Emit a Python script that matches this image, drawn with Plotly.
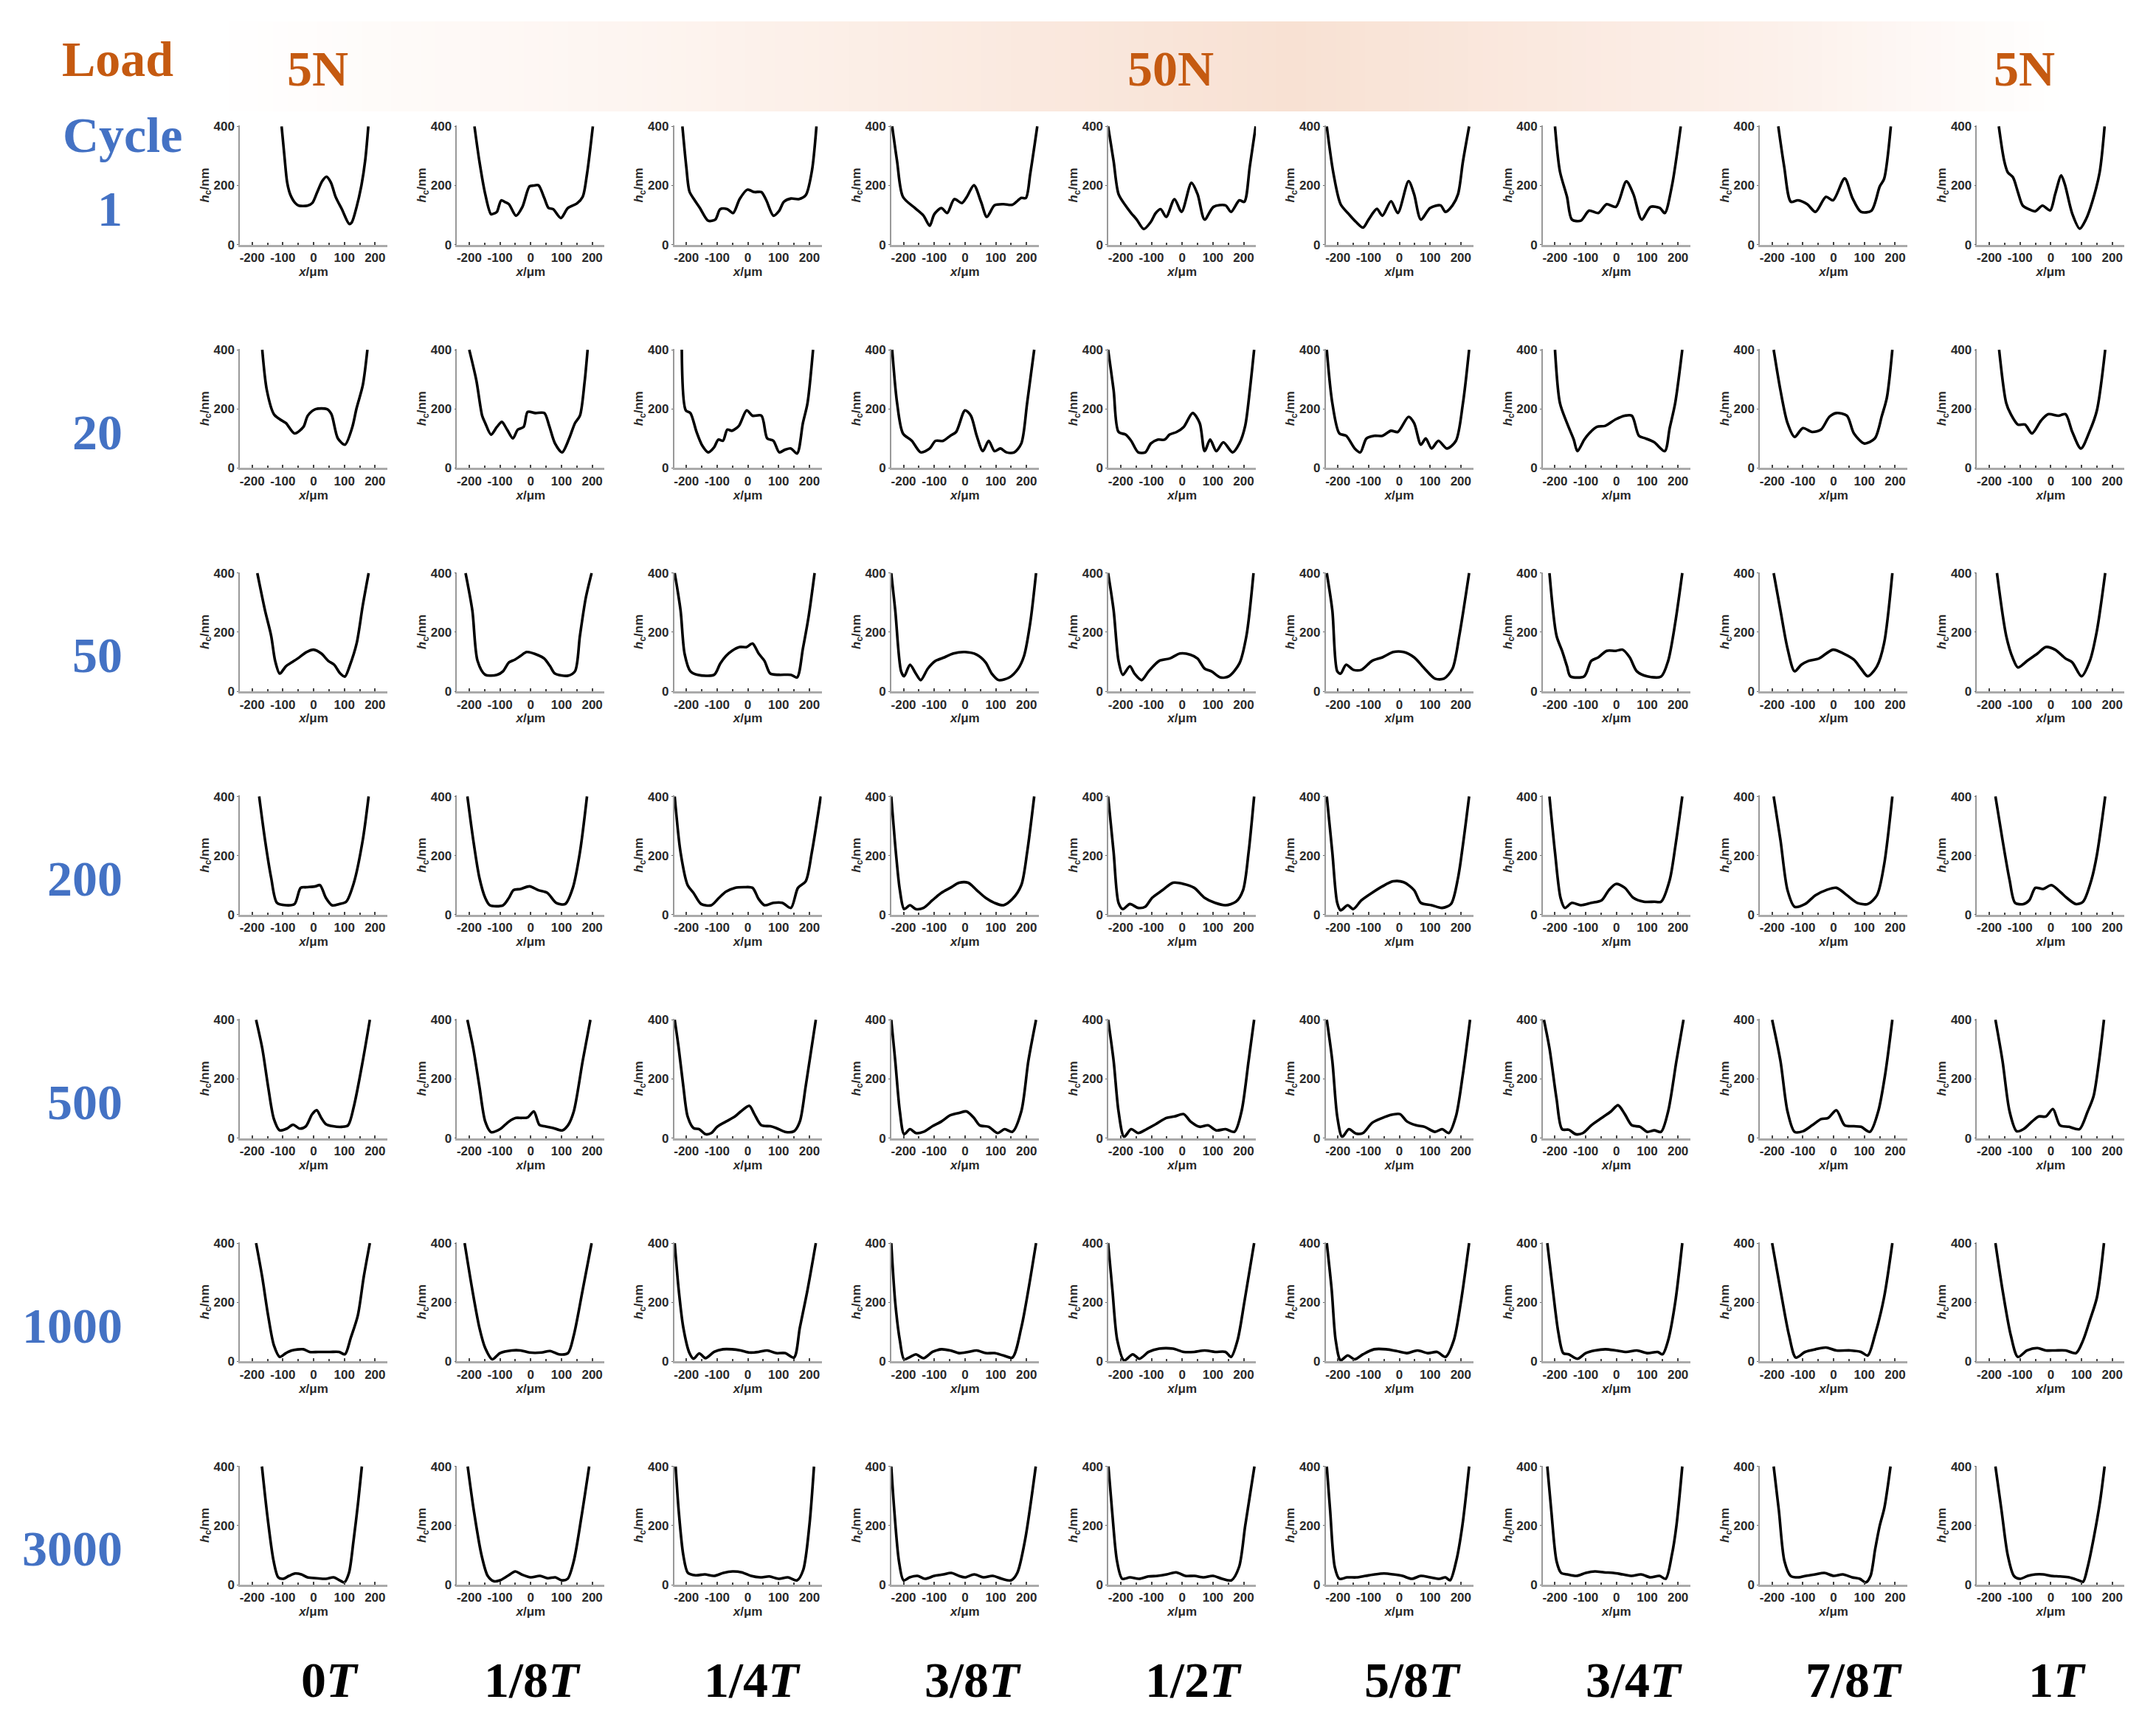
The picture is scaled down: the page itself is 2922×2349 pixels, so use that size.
import plotly.graph_objects as go

# the page adds an 8px body margin, so the figure is drawn 8px in from the corner
PAGE_W, PAGE_H, OFF = 2922, 2349, 8
W, H = PAGE_W - 2 * OFF, PAGE_H - 2 * OFF
# vertical placement as measured on the rendered page
V_OFF, V_SCALE = 16.0, 0.9925

# labels
cycles = ["1", "20", "50", "200", "500", "1000", "3000"]
phases = ["0<i>T</i>", "1/8<i>T</i>", "1/4<i>T</i>", "3/8<i>T</i>", "1/2<i>T</i>",
          "5/8<i>T</i>", "3/4<i>T</i>", "7/8<i>T</i>", "1<i>T</i>"]
loads = ["5N", "50N", "5N"]

# film thickness profiles, one list of (x/um, hc/nm) per phase
cycle_1 = [
    [(-104, 400), (-94, 290), (-86, 211), (-76, 170), (-60, 141), (-48, 132), (-20, 132), (-4, 141), (12, 178), (28, 215), (42, 230), (56, 211), (72, 161), (92, 120), (116, 70), (124, 75), (140, 128), (156, 203), (168, 286), (178, 400)],
    [(-183, 400), (-167, 282), (-148, 171), (-129, 103), (-118, 106), (-110, 111), (-96, 150), (-85, 145), (-71, 137), (-48, 98), (-27, 128), (-4, 197), (10, 200), (25, 201), (44, 158), (58, 124), (73, 120), (98, 90), (121, 124), (150, 139), (169, 162), (183, 239), (202, 400)],
    [(-213, 400), (-200, 260), (-190, 180), (-173, 150), (-156, 124), (-129, 81), (-106, 85), (-90, 120), (-67, 120), (-48, 107), (-27, 154), (-2, 186), (21, 178), (44, 178), (60, 150), (83, 98), (102, 115), (117, 145), (140, 156), (165, 154), (188, 167), (208, 248), (223, 400)],
    [(-237, 400), (-221, 282), (-202, 162), (-163, 124), (-135, 98), (-115, 64), (-100, 103), (-77, 124), (-58, 107), (-35, 154), (-10, 141), (6, 162), (29, 201), (52, 145), (71, 94), (96, 133), (125, 137), (154, 135), (183, 158), (198, 158), (212, 239), (235, 400)],
    [(-241, 400), (-223, 282), (-207, 171), (-184, 132), (-166, 107), (-148, 85), (-125, 53), (-102, 77), (-86, 107), (-70, 120), (-52, 94), (-25, 154), (-2, 111), (30, 209), (50, 171), (73, 85), (102, 128), (141, 133), (159, 111), (186, 150), (202, 145), (220, 265), (239, 400)],
    [(-236, 400), (-214, 239), (-191, 137), (-164, 103), (-141, 77), (-118, 58), (-100, 85), (-73, 121), (-55, 98), (-27, 147), (-5, 107), (30, 215), (48, 171), (70, 85), (100, 124), (134, 133), (150, 111), (173, 133), (191, 171), (207, 282), (227, 400)],
    [(-200, 400), (-184, 248), (-161, 162), (-145, 85), (-116, 81), (-89, 115), (-59, 107), (-32, 137), (-2, 128), (32, 214), (55, 171), (82, 85), (111, 128), (141, 124), (157, 107), (180, 197), (209, 400)],
    [(-180, 400), (-161, 265), (-139, 145), (-116, 150), (-86, 137), (-59, 111), (-25, 162), (-2, 150), (36, 224), (61, 158), (89, 111), (123, 115), (150, 197), (164, 222), (186, 400)],
    [(-169, 400), (-152, 286), (-140, 245), (-123, 228), (-107, 178), (-91, 132), (-71, 120), (-51, 113), (-27, 132), (-2, 116), (14, 170), (34, 234), (46, 203), (70, 104), (94, 54), (115, 87), (135, 145), (159, 245), (175, 400)],
]

cycle_20 = [
    [(-167, 400), (-152, 263), (-129, 182), (-110, 165), (-90, 152), (-62, 117), (-33, 139), (-19, 177), (6, 199), (44, 199), (58, 182), (79, 100), (102, 79), (125, 135), (140, 203), (160, 280), (175, 400)],
    [(-200, 400), (-177, 297), (-158, 177), (-148, 152), (-129, 113), (-110, 139), (-94, 156), (-77, 130), (-58, 100), (-42, 130), (-23, 139), (-10, 190), (15, 186), (44, 186), (60, 143), (79, 83), (102, 53), (125, 100), (144, 152), (160, 177), (175, 289), (185, 400)],
    [(-215, 400), (-202, 195), (-187, 186), (-167, 122), (-148, 75), (-129, 53), (-110, 70), (-96, 96), (-81, 92), (-67, 130), (-52, 126), (-29, 143), (-4, 195), (15, 177), (44, 177), (63, 100), (83, 92), (102, 53), (121, 62), (140, 66), (160, 49), (179, 152), (194, 220), (212, 400)],
    [(-237, 400), (-221, 220), (-202, 117), (-173, 92), (-144, 53), (-115, 66), (-96, 92), (-71, 92), (-48, 109), (-29, 122), (0, 195), (19, 177), (38, 109), (58, 57), (77, 92), (96, 57), (115, 66), (135, 53), (160, 53), (183, 83), (202, 220), (225, 400)],
    [(-241, 400), (-223, 263), (-207, 122), (-184, 113), (-166, 92), (-143, 53), (-120, 53), (-102, 83), (-80, 96), (-57, 96), (-41, 113), (-18, 122), (5, 139), (34, 186), (57, 152), (73, 57), (91, 96), (111, 57), (134, 87), (164, 53), (186, 83), (205, 143), (220, 263), (234, 400)],
    [(-236, 400), (-218, 220), (-195, 117), (-173, 109), (-145, 66), (-127, 53), (-107, 100), (-82, 109), (-55, 109), (-27, 126), (-5, 122), (30, 173), (48, 152), (70, 79), (86, 100), (105, 66), (127, 92), (155, 66), (184, 92), (207, 220), (227, 400)],
    [(-200, 400), (-184, 220), (-161, 152), (-139, 96), (-127, 57), (-105, 96), (-89, 117), (-64, 139), (-36, 143), (-2, 165), (27, 177), (50, 177), (73, 109), (95, 100), (123, 87), (157, 57), (173, 135), (191, 220), (214, 400)],
    [(-195, 400), (-173, 263), (-150, 152), (-127, 105), (-100, 135), (-70, 122), (-41, 130), (-14, 173), (9, 186), (43, 177), (66, 117), (100, 83), (134, 100), (157, 177), (173, 237), (191, 400)],
    [(-168, 400), (-145, 220), (-130, 182), (-107, 147), (-84, 147), (-61, 117), (-32, 160), (-9, 182), (25, 177), (48, 182), (70, 122), (98, 66), (127, 126), (150, 195), (177, 400)],
]

cycle_50 = [
    [(-183, 400), (-158, 274), (-138, 188), (-125, 103), (-110, 60), (-90, 85), (-71, 98), (-52, 111), (-23, 133), (0, 141), (25, 128), (48, 103), (67, 90), (87, 60), (102, 50), (117, 85), (140, 162), (160, 291), (179, 400)],
    [(-212, 400), (-190, 274), (-173, 103), (-148, 56), (-110, 56), (-90, 68), (-71, 98), (-52, 107), (-33, 120), (-13, 133), (25, 122), (44, 111), (63, 85), (79, 60), (121, 53), (144, 68), (160, 188), (179, 316), (198, 400)],
    [(-238, 400), (-219, 274), (-206, 128), (-187, 68), (-163, 56), (-110, 56), (-90, 94), (-71, 120), (-52, 137), (-27, 150), (-4, 150), (15, 162), (35, 128), (54, 103), (73, 60), (102, 56), (140, 56), (160, 47), (179, 145), (198, 256), (217, 400)],
    [(-240, 400), (-227, 274), (-208, 68), (-198, 51), (-179, 90), (-160, 60), (-144, 38), (-121, 77), (-96, 103), (-67, 115), (-38, 128), (0, 133), (38, 124), (67, 98), (87, 60), (110, 38), (144, 47), (173, 77), (192, 120), (212, 231), (231, 400)],
    [(-241, 400), (-223, 274), (-207, 103), (-193, 56), (-170, 85), (-155, 60), (-132, 38), (-109, 68), (-75, 103), (-41, 111), (-7, 128), (27, 124), (50, 111), (73, 77), (95, 68), (125, 47), (152, 51), (186, 94), (209, 188), (232, 400)],
    [(-236, 400), (-218, 274), (-202, 68), (-191, 60), (-173, 90), (-150, 73), (-123, 73), (-89, 103), (-55, 115), (-20, 133), (14, 133), (48, 115), (82, 77), (116, 43), (145, 43), (173, 77), (195, 188), (227, 400)],
    [(-218, 400), (-195, 188), (-177, 137), (-161, 85), (-150, 51), (-105, 51), (-82, 103), (-59, 115), (-32, 137), (-2, 137), (20, 141), (43, 115), (66, 68), (100, 51), (145, 50), (168, 103), (191, 231), (214, 400)],
    [(-195, 400), (-173, 274), (-150, 145), (-127, 68), (-105, 90), (-82, 103), (-48, 111), (-2, 141), (32, 128), (66, 107), (89, 77), (111, 51), (141, 85), (164, 162), (191, 400)],
    [(-175, 400), (-145, 188), (-123, 111), (-107, 81), (-77, 103), (-43, 128), (-16, 150), (14, 141), (48, 111), (70, 98), (100, 51), (127, 103), (150, 205), (177, 400)],
]

cycle_200 = [
    [(-177, 400), (-158, 253), (-138, 125), (-119, 40), (-90, 32), (-62, 36), (-42, 91), (-23, 93), (6, 96), (21, 100), (40, 57), (60, 32), (83, 36), (106, 44), (131, 108), (160, 253), (179, 400)],
    [(-206, 400), (-187, 253), (-167, 125), (-148, 57), (-133, 32), (-90, 32), (-71, 57), (-56, 83), (-33, 87), (-4, 96), (25, 83), (54, 74), (83, 40), (112, 36), (137, 91), (160, 211), (183, 400)],
    [(-238, 400), (-219, 211), (-196, 100), (-177, 74), (-152, 36), (-119, 32), (-94, 57), (-71, 78), (-42, 91), (-13, 93), (15, 91), (35, 53), (54, 32), (83, 40), (112, 40), (140, 23), (163, 91), (188, 113), (208, 211), (237, 400)],
    [(-240, 400), (-225, 211), (-212, 83), (-198, 19), (-179, 32), (-160, 19), (-135, 23), (-106, 49), (-77, 74), (-48, 91), (-19, 108), (10, 108), (38, 83), (67, 57), (96, 40), (125, 32), (154, 53), (183, 100), (202, 211), (225, 400)],
    [(-241, 400), (-223, 211), (-207, 40), (-193, 19), (-170, 36), (-143, 23), (-120, 27), (-98, 57), (-64, 83), (-30, 108), (5, 104), (39, 91), (73, 57), (107, 40), (141, 32), (175, 44), (198, 83), (216, 211), (234, 400)],
    [(-236, 400), (-218, 211), (-202, 40), (-191, 15), (-168, 32), (-150, 19), (-123, 49), (-89, 74), (-55, 96), (-20, 113), (14, 110), (48, 83), (70, 40), (105, 32), (139, 23), (168, 36), (191, 125), (209, 253), (227, 400)],
    [(-218, 400), (-200, 211), (-182, 57), (-168, 23), (-145, 40), (-116, 32), (-82, 40), (-48, 49), (-25, 83), (-2, 104), (27, 91), (55, 57), (89, 44), (123, 44), (145, 44), (173, 117), (191, 228), (214, 400)],
    [(-195, 400), (-173, 253), (-150, 83), (-127, 27), (-93, 36), (-59, 66), (-25, 83), (9, 91), (43, 66), (77, 40), (111, 36), (141, 66), (164, 168), (191, 400)],
    [(-180, 400), (-157, 253), (-134, 117), (-116, 40), (-89, 36), (-70, 49), (-50, 91), (-25, 87), (2, 100), (30, 78), (52, 57), (82, 36), (105, 44), (132, 117), (150, 202), (177, 400)],
]

cycle_500 = [
    [(-187, 400), (-167, 304), (-148, 175), (-129, 64), (-110, 26), (-87, 32), (-67, 45), (-45, 32), (-25, 40), (-5, 80), (10, 94), (25, 68), (40, 47), (63, 40), (92, 38), (112, 43), (131, 107), (160, 261), (183, 400)],
    [(-206, 400), (-187, 304), (-167, 175), (-148, 56), (-129, 20), (-100, 30), (-71, 56), (-48, 68), (-29, 68), (-10, 70), (10, 90), (28, 45), (44, 40), (73, 34), (102, 26), (121, 43), (140, 90), (169, 261), (194, 400)],
    [(-238, 400), (-225, 304), (-210, 175), (-196, 73), (-177, 34), (-158, 30), (-138, 13), (-119, 17), (-100, 38), (-71, 56), (-42, 73), (-23, 90), (5, 109), (21, 81), (44, 43), (73, 40), (92, 34), (121, 21), (150, 23), (169, 56), (188, 175), (221, 400)],
    [(-240, 400), (-227, 261), (-212, 90), (-198, 13), (-179, 30), (-160, 17), (-135, 21), (-106, 40), (-77, 56), (-48, 77), (-19, 85), (5, 90), (29, 68), (48, 43), (77, 38), (106, 17), (129, 30), (154, 21), (183, 90), (206, 261), (231, 400)],
    [(-241, 400), (-223, 261), (-207, 90), (-189, 4), (-166, 30), (-143, 17), (-116, 30), (-86, 47), (-52, 68), (-25, 73), (5, 81), (27, 56), (57, 38), (84, 43), (111, 26), (141, 30), (170, 21), (193, 90), (216, 261), (234, 400)],
    [(-236, 400), (-218, 261), (-202, 73), (-186, 4), (-164, 30), (-141, 15), (-118, 17), (-89, 51), (-55, 68), (-32, 77), (2, 81), (25, 56), (55, 43), (82, 38), (116, 21), (139, 30), (161, 17), (184, 73), (207, 218), (230, 400)],
    [(-236, 400), (-218, 304), (-195, 133), (-177, 30), (-155, 28), (-132, 13), (-109, 17), (-82, 43), (-48, 68), (-18, 90), (5, 111), (27, 81), (50, 43), (77, 38), (100, 21), (123, 26), (145, 21), (168, 90), (195, 261), (218, 400)],
    [(-200, 400), (-173, 261), (-150, 90), (-127, 21), (-100, 23), (-70, 43), (-41, 64), (-18, 68), (9, 94), (36, 43), (66, 40), (89, 38), (118, 21), (145, 90), (168, 218), (191, 400)],
    [(-180, 400), (-157, 261), (-134, 90), (-111, 23), (-89, 30), (-61, 56), (-39, 73), (-16, 73), (7, 98), (30, 43), (59, 38), (93, 30), (120, 90), (139, 141), (157, 261), (173, 400)],
]

cycle_1000 = [
    [(-187, 400), (-167, 285), (-148, 156), (-129, 54), (-110, 15), (-90, 28), (-71, 37), (-33, 41), (-13, 32), (15, 32), (54, 32), (83, 32), (102, 24), (121, 80), (144, 156), (163, 285), (183, 400)],
    [(-215, 400), (-190, 242), (-167, 114), (-148, 45), (-125, 7), (-100, 28), (-62, 37), (-33, 37), (-4, 30), (35, 30), (63, 35), (92, 24), (121, 28), (140, 88), (169, 242), (198, 400)],
    [(-238, 400), (-225, 242), (-210, 114), (-190, 28), (-177, 9), (-158, 27), (-138, 11), (-110, 32), (-81, 41), (-52, 41), (-23, 37), (6, 30), (35, 32), (63, 37), (92, 28), (121, 28), (150, 13), (169, 114), (194, 242), (221, 400)],
    [(-240, 400), (-227, 199), (-212, 71), (-198, 7), (-179, 15), (-160, 24), (-135, 11), (-106, 32), (-77, 41), (-48, 37), (-19, 28), (10, 32), (38, 37), (67, 28), (96, 28), (125, 20), (154, 13), (183, 114), (206, 242), (231, 400)],
    [(-241, 400), (-227, 242), (-211, 71), (-189, 3), (-161, 24), (-139, 9), (-109, 32), (-75, 43), (-30, 43), (5, 32), (39, 32), (73, 37), (107, 32), (141, 32), (159, 15), (180, 71), (202, 199), (234, 400)],
    [(-236, 400), (-220, 242), (-207, 71), (-191, 4), (-168, 20), (-145, 7), (-118, 24), (-82, 41), (-43, 41), (-9, 35), (25, 28), (59, 37), (93, 28), (123, 32), (150, 15), (177, 71), (200, 199), (227, 400)],
    [(-225, 400), (-207, 242), (-189, 97), (-173, 28), (-155, 24), (-127, 9), (-100, 28), (-70, 37), (-36, 41), (-2, 37), (32, 32), (66, 37), (100, 28), (134, 32), (150, 24), (168, 71), (191, 199), (214, 400)],
    [(-200, 400), (-173, 242), (-145, 88), (-123, 13), (-93, 32), (-59, 41), (-25, 47), (9, 37), (55, 37), (89, 32), (111, 20), (134, 88), (164, 216), (191, 400)],
    [(-180, 400), (-157, 242), (-130, 88), (-107, 15), (-77, 37), (-43, 45), (-16, 37), (14, 37), (48, 37), (82, 28), (105, 71), (127, 139), (150, 216), (173, 400)],
]

cycle_3000 = [
    [(-168, 400), (-150, 230), (-130, 80), (-115, 25), (-100, 20), (-80, 30), (-60, 38), (-40, 35), (-20, 25), (10, 22), (40, 20), (65, 25), (85, 15), (100, 8), (115, 40), (130, 150), (145, 280), (157, 400)],
    [(-205, 400), (-185, 250), (-160, 100), (-140, 30), (-120, 12), (-100, 15), (-75, 30), (-50, 45), (-30, 35), (0, 25), (30, 30), (55, 22), (80, 25), (100, 15), (120, 20), (140, 80), (165, 230), (190, 400)],
    [(-235, 400), (-225, 250), (-210, 100), (-195, 40), (-170, 32), (-140, 35), (-110, 30), (-80, 40), (-50, 45), (-20, 42), (10, 30), (40, 25), (70, 28), (100, 20), (130, 25), (160, 15), (180, 50), (200, 200), (215, 400)],
    [(-240, 400), (-230, 250), (-215, 80), (-200, 15), (-180, 25), (-155, 30), (-130, 20), (-100, 30), (-70, 35), (-45, 40), (-20, 30), (0, 25), (30, 35), (60, 25), (90, 30), (120, 20), (150, 15), (170, 40), (195, 150), (230, 400)],
    [(-240, 400), (-228, 250), (-212, 80), (-195, 20), (-170, 25), (-140, 20), (-110, 28), (-80, 30), (-50, 35), (-20, 42), (10, 30), (40, 30), (70, 25), (100, 30), (130, 20), (160, 15), (185, 60), (205, 200), (235, 400)],
    [(-236, 400), (-225, 250), (-210, 60), (-195, 20), (-170, 25), (-140, 25), (-110, 30), (-80, 35), (-50, 38), (-20, 35), (10, 30), (40, 20), (70, 30), (100, 25), (130, 20), (150, 25), (165, 15), (185, 80), (205, 200), (227, 400)],
    [(-225, 400), (-212, 250), (-195, 80), (-180, 40), (-160, 35), (-130, 30), (-100, 40), (-70, 45), (-40, 42), (-10, 40), (20, 35), (50, 30), (80, 35), (110, 25), (140, 30), (160, 20), (180, 100), (195, 200), (214, 400)],
    [(-195, 400), (-178, 250), (-160, 80), (-140, 30), (-115, 25), (-90, 30), (-60, 35), (-30, 40), (0, 30), (30, 35), (60, 25), (85, 20), (105, 8), (120, 30), (135, 120), (150, 200), (165, 260), (185, 400)],
    [(-180, 400), (-160, 250), (-140, 100), (-120, 30), (-100, 20), (-75, 30), (-50, 35), (-25, 35), (0, 30), (30, 28), (60, 25), (90, 15), (105, 10), (120, 60), (140, 160), (160, 280), (175, 400)],
]

profiles = [cycle_1, cycle_20, cycle_50, cycle_200, cycle_500, cycle_1000, cycle_3000]

# panel grid, in page pixels
COL_X0, COL_STEP, PANEL_W = 325, 294.3, 200
ROW_Y0, ROW_STEP, PANEL_H = 170.2, 302.8, 161.5
SERIF = "Liberation Serif"
SANS = "Liberation Sans"
ORANGE = "#C55A11"
BLUE = "#4472C4"


def px(x):
    return (x - OFF) / W


def py(y):
    return 1 - ((y - V_OFF) / V_SCALE) / H


fig = go.Figure()
layout = {}
small = dict(family=SANS, size=17, color="#2a2a2a", weight="bold")

for r, row in enumerate(profiles):
    for c, pts in enumerate(row):
        k = r * len(row) + c + 1
        sfx = "" if k == 1 else str(k)
        fig.add_trace(go.Scatter(
            x=[p[0] for p in pts],
            y=[p[1] for p in pts],
            mode="lines",
            line=dict(color="black", width=3.6, shape="spline", smoothing=0.8),
            xaxis="x" + sfx, yaxis="y" + sfx,
            showlegend=False, hoverinfo="skip",
        ))
        x0 = COL_X0 + c * COL_STEP
        y0 = ROW_Y0 + r * ROW_STEP
        layout["xaxis" + sfx] = dict(
            domain=[px(x0), px(x0 + PANEL_W)], anchor="y" + sfx,
            range=[-240, 240], tickvals=[-200, -100, 0, 100, 200],
            ticktext=["-200", "-100", "0", "100", "200"],
            showline=True, linecolor="#aaaaaa", linewidth=3,
            ticks="inside", ticklen=4, tickcolor="#444", tickwidth=1.5,
            minor=dict(tick0=0, dtick=50, ticks="inside", ticklen=3, tickcolor="#444"),
            showgrid=False, zeroline=False,
            tickfont=small,
            title=dict(text="<i>x</i>/μm", font=small, standoff=0),
        )
        layout["yaxis" + sfx] = dict(
            domain=[py(y0 + PANEL_H), py(y0)], anchor="x" + sfx,
            range=[0, 403], tickvals=[0, 200, 400],
            showline=True, linecolor="#999999", linewidth=1.5,
            ticks="outside", ticklen=2, tickcolor="#666",
            showgrid=False, zeroline=False,
            tickfont=small,
            title=dict(text="<i>h</i><sub>c</sub>/nm", font=small, standoff=0),
        )

# load banner: horizontal gradient built from thin strips
stops = [(290, (255, 255, 255)), (900, (253, 244, 239)), (1750, (248, 225, 211)),
         (2400, (252, 240, 234)), (2790, (255, 255, 255))]
shapes = []
n_strips = 125
for i in range(n_strips):
    xa = 290 + (2790 - 290) * i / n_strips
    xb = 290 + (2790 - 290) * (i + 1) / n_strips
    xm = (xa + xb) / 2
    for (p0, c0), (p1, c1) in zip(stops[:-1], stops[1:]):
        if p0 <= xm <= p1:
            t = (xm - p0) / (p1 - p0)
            col = tuple(round(a + (b - a) * t) for a, b in zip(c0, c1))
            break
    shapes.append(dict(type="rect", xref="paper", yref="paper", layer="below",
                       x0=px(xa), x1=px(xb + 1), y0=py(151), y1=py(29),
                       line=dict(width=0), fillcolor="rgb(%d,%d,%d)" % col))

annotations = []


def label(text, x, y, color, size=68, xanchor="center"):
    annotations.append(dict(text="<b>%s</b>" % text, x=px(x), y=py(y),
                            xref="paper", yref="paper", showarrow=False,
                            xanchor=xanchor, yanchor="middle",
                            font=dict(family=SERIF, size=size, color=color)))


label("Load", 159, 80, ORANGE)
label("Cycle", 166, 183, BLUE)
for txt, x in zip(loads, [430, 1586, 2743]):
    label(txt, x, 93, ORANGE)
for r, txt in enumerate(cycles):
    label(txt, 168, 283 + r * ROW_STEP, BLUE, xanchor="right")
for c, txt in enumerate(phases):
    label(txt, [447, 721, 1019, 1318, 1617, 1914, 2214, 2512, 2788][c], 2277, "black")

fig.update_layout(
    width=W, height=H,
    margin=dict(l=0, r=0, t=0, b=0),
    paper_bgcolor="white", plot_bgcolor="white",
    shapes=shapes, annotations=annotations,
    **layout,
)

fig.write_html("out.html")
